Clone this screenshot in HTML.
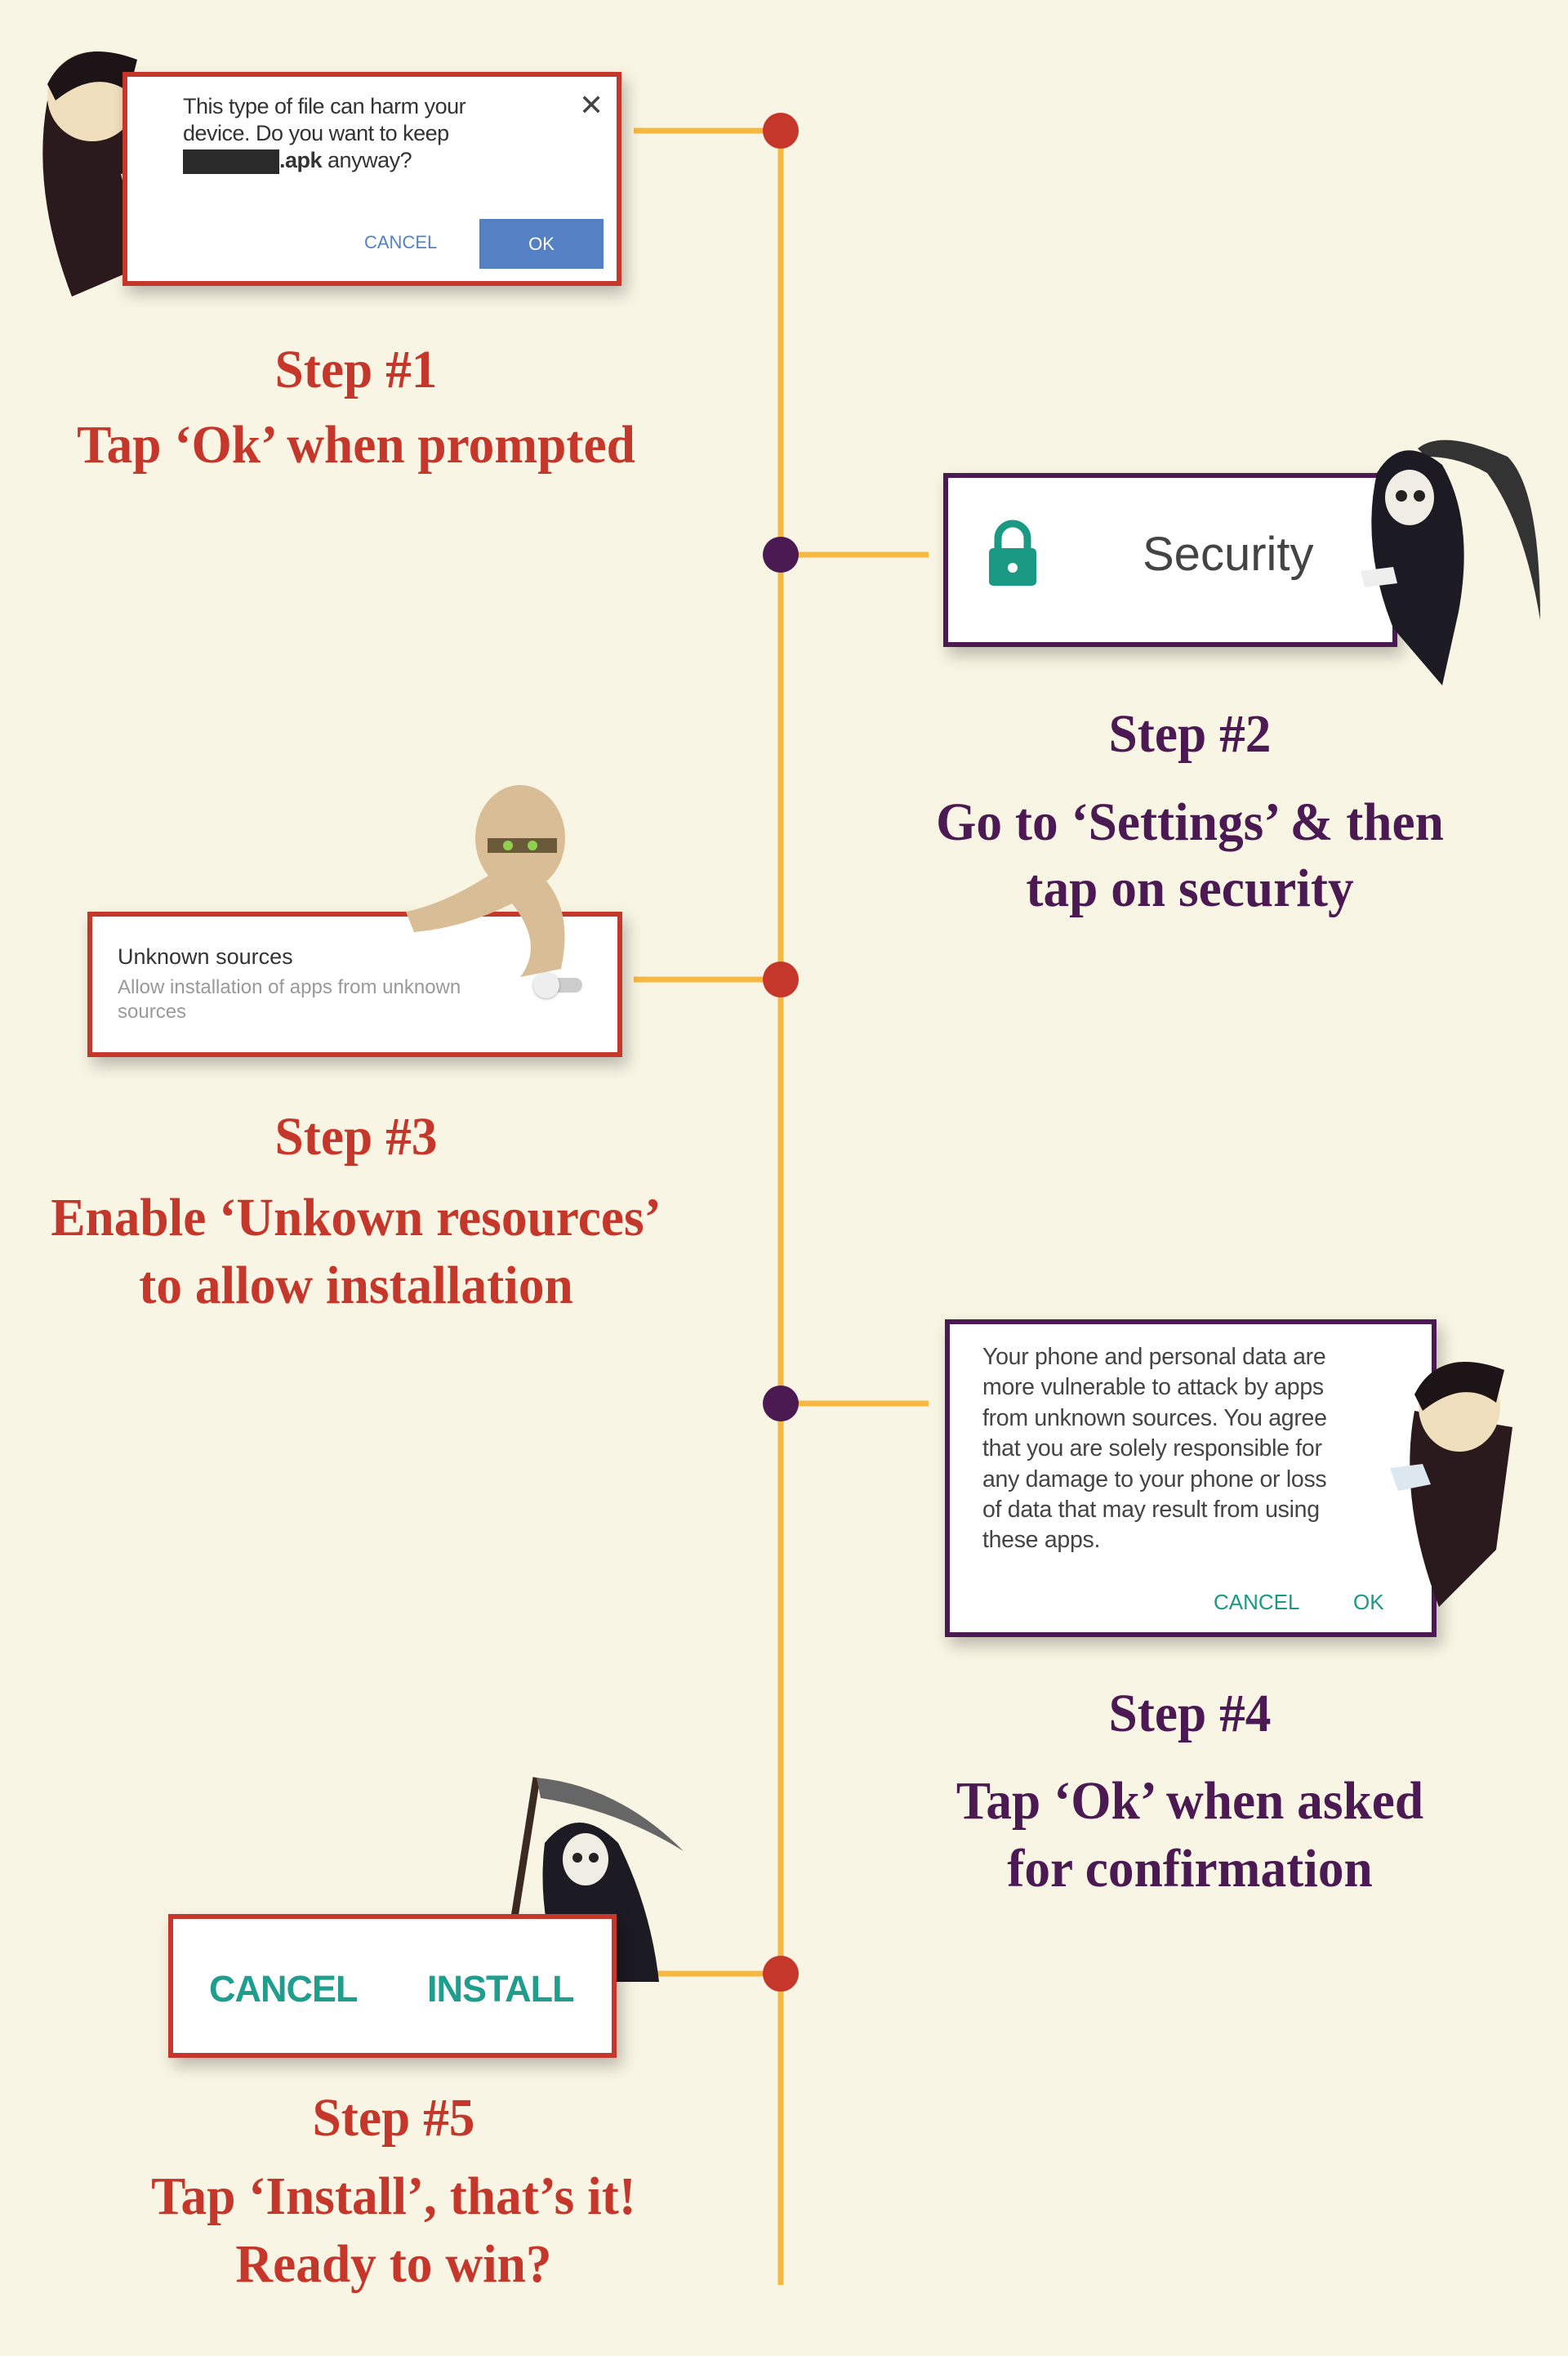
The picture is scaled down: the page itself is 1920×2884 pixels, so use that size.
<!DOCTYPE html>
<html><head><meta charset="utf-8"><style>
body{margin:0;width:1920px;height:2884px;background:#f9f5e4;position:relative;overflow:hidden;font-family:"Liberation Sans",sans-serif}
.a{position:absolute}
.box{position:absolute;background:#fff;box-sizing:border-box;box-shadow:6px 10px 18px rgba(0,0,0,.25)}
.r{border:6px solid #c4372a}.p{border:6px solid #4b1a52}
.h{position:absolute;font-family:"Liberation Serif",serif;font-weight:bold;text-align:center;line-height:1;transform:scaleX(0.96)}
.hr{color:#c4372a}.hp{color:#4b1a52}
</style></head><body>
<svg class="a" style="left:0;top:0" width="1920" height="2884">
<g stroke="#f5b942" stroke-width="7">
<line x1="956" y1="160" x2="956" y2="2797"/>
<line x1="776" y1="160" x2="956" y2="160"/>
<line x1="956" y1="679" x2="1137" y2="679"/>
<line x1="776" y1="1199" x2="956" y2="1199"/>
<line x1="956" y1="1718" x2="1137" y2="1718"/>
<line x1="754" y1="2416" x2="956" y2="2416"/>
</g>
<circle cx="956" cy="160" r="22" fill="#c4372a"/>
<circle cx="956" cy="679" r="22" fill="#4b1a52"/>
<circle cx="956" cy="1199" r="22" fill="#c4372a"/>
<circle cx="956" cy="1718" r="22" fill="#4b1a52"/>
<circle cx="956" cy="2416" r="22" fill="#c4372a"/>
</svg>

<svg class="a" style="left:28px;top:33px" width="180" height="332"><path d="M30 90 Q10 200 60 330 L130 300 L150 120 Z" fill="#2a1a1e"/><ellipse cx="85" cy="85" rx="55" ry="55" fill="#f0dfbd"/><path d="M30 70 Q60 10 140 40 L130 80 Q90 50 40 90Z" fill="#1d1418"/><path d="M120 180 l40 -10 l5 20 l-40 10z" fill="#f0dfbd"/></svg>
<div class="box r" style="left:150px;top:88px;width:611px;height:262px">
<div class="a" style="left:68px;top:20px;font-size:27px;line-height:33px;color:#333;white-space:nowrap;letter-spacing:-0.5px">This type of file can harm your<br>device. Do you want to keep<br><span style="display:inline-block;width:118px;height:30px;background:#2a2a2a;vertical-align:middle"></span><b>.apk</b> anyway?</div>
<div class="a" style="left:553px;top:14px;font-size:36px;color:#444">✕</div>
<div class="a" style="left:290px;top:190px;font-size:22px;color:#5580c4">CANCEL</div>
<div class="a" style="left:431px;top:174px;width:152px;height:61px;background:#5580c4;color:#fff;font-size:22px;text-align:center;line-height:61px">OK</div>
</div>
<div class="h hr" style="left:136px;top:420px;width:600px;font-size:66px">Step #1</div>
<div class="h hr" style="left:36px;top:512px;width:800px;font-size:66px">Tap ‘Ok’ when prompted</div>

<div class="box p" style="left:1155px;top:579px;width:556px;height:213px">
<svg class="a" style="left:47px;top:50px" width="64" height="84"><path d="M14 38 V24 a18 18 0 0 1 36 0 V38" fill="none" stroke="#1a9a82" stroke-width="9"/><rect x="3" y="36" width="58" height="46" rx="5" fill="#1a9a82"/><circle cx="32" cy="60" r="6" fill="#fff"/></svg>
<div class="a" style="left:238px;top:60px;font-size:58px;color:#444">Security</div>
</div>
<svg class="a" style="left:1646px;top:519px" width="250" height="330"><path d="M90 30 Q120 5 200 40 Q240 80 240 240 Q220 120 175 60 Q140 40 100 40Z" fill="#333"/><path d="M40 60 Q70 10 120 50 Q160 120 140 230 L120 320 L60 250 Q20 150 40 60Z" fill="#1c1a22"/><ellipse cx="80" cy="90" rx="30" ry="34" fill="#f0ede4"/><circle cx="70" cy="88" r="7" fill="#222"/><circle cx="92" cy="88" r="7" fill="#222"/><path d="M20 180 l40 -5 l5 20 l-40 5z" fill="#eee"/></svg>
<div class="h hp" style="left:1157px;top:866px;width:600px;font-size:66px">Step #2</div>
<div class="h hp" style="left:1057px;top:966px;width:800px;font-size:66px;line-height:81px">Go to ‘Settings’ &amp; then<br>tap on security</div>

<div class="box r" style="left:107px;top:1116px;width:655px;height:178px">
<div class="a" style="left:31px;top:34px;font-size:27px;color:#333">Unknown sources</div>
<div class="a" style="left:31px;top:72px;font-size:24px;line-height:30px;color:#999;width:470px">Allow installation of apps from unknown sources</div>
<div class="a" style="left:550px;top:75px;width:50px;height:18px;border-radius:9px;background:#ccc"></div>
<div class="a" style="left:540px;top:68px;width:32px;height:32px;border-radius:50%;background:#eee;box-shadow:0 1px 3px rgba(0,0,0,.3)"></div>
</div>
<svg class="a" style="left:487px;top:956px" width="222" height="240"><ellipse cx="150" cy="70" rx="55" ry="65" fill="#d9bd96"/><path d="M120 110 Q60 150 10 160 l10 25 Q80 180 140 150 Q180 200 150 240 L200 230 Q215 160 180 120Z" fill="#d9bd96"/><rect x="110" y="70" width="85" height="18" fill="#6a5a3a"/><circle cx="135" cy="79" r="6" fill="#8fd14f"/><circle cx="165" cy="79" r="6" fill="#8fd14f"/></svg>
<div class="h hr" style="left:136px;top:1359px;width:600px;font-size:66px">Step #3</div>
<div class="h hr" style="left:-14px;top:1449px;width:900px;font-size:66px;line-height:83px">Enable ‘Unkown resources’<br>to allow installation</div>

<div class="box p" style="left:1157px;top:1615px;width:602px;height:389px">
<div class="a" style="left:40px;top:22px;font-size:28.5px;line-height:37.4px;color:#444;white-space:nowrap;letter-spacing:-0.3px">Your phone and personal data are<br>more vulnerable to attack by apps<br>from unknown sources. You agree<br>that you are solely responsible for<br>any damage to your phone or loss<br>of data that may result from using<br>these apps.</div>
<div class="a" style="left:323px;top:325px;font-size:26px;color:#1a9a82">CANCEL</div>
<div class="a" style="left:494px;top:325px;font-size:26px;color:#1a9a82">OK</div>
</div>
<svg class="a" style="left:1692px;top:1637px" width="170" height="332"><path d="M40 90 Q20 200 70 330 L140 260 L160 110Z" fill="#2a1a1e"/><ellipse cx="95" cy="85" rx="50" ry="55" fill="#f0dfbd"/><path d="M40 70 Q70 10 150 40 L140 80 Q100 50 50 90Z" fill="#1d1418"/><path d="M10 160 l40 -5 l10 25 l-40 8z" fill="#dde7ef"/></svg>
<div class="h hp" style="left:1157px;top:2065px;width:600px;font-size:66px">Step #4</div>
<div class="h hp" style="left:1057px;top:2163px;width:800px;font-size:66px;line-height:83px">Tap ‘Ok’ when asked<br>for confirmation</div>

<svg class="a" style="left:607px;top:2166px" width="232" height="282"><path d="M50 10 L20 200" stroke="#3a2a20" stroke-width="9"/><path d="M50 10 Q150 20 230 100 Q150 50 55 35Z" fill="#666"/><path d="M60 90 Q100 40 150 90 Q190 170 200 260 L80 260 Q50 170 60 90Z" fill="#1c1a22"/><ellipse cx="110" cy="110" rx="28" ry="32" fill="#f0ede4"/><circle cx="100" cy="108" r="6" fill="#222"/><circle cx="120" cy="108" r="6" fill="#222"/></svg>
<div class="box r" style="left:206px;top:2343px;width:549px;height:176px">
<div class="a" style="left:44px;top:60px;font-size:45px;color:#1f9e8e;font-weight:bold;letter-spacing:-1px">CANCEL</div>
<div class="a" style="left:311px;top:60px;font-size:45px;color:#1f9e8e;font-weight:bold;letter-spacing:-1px">INSTALL</div>
</div>
<div class="h hr" style="left:182px;top:2560px;width:600px;font-size:66px">Step #5</div>
<div class="h hr" style="left:82px;top:2647px;width:800px;font-size:66px;line-height:83px">Tap ‘Install’, that’s it!<br>Ready to win?</div>
</body></html>
